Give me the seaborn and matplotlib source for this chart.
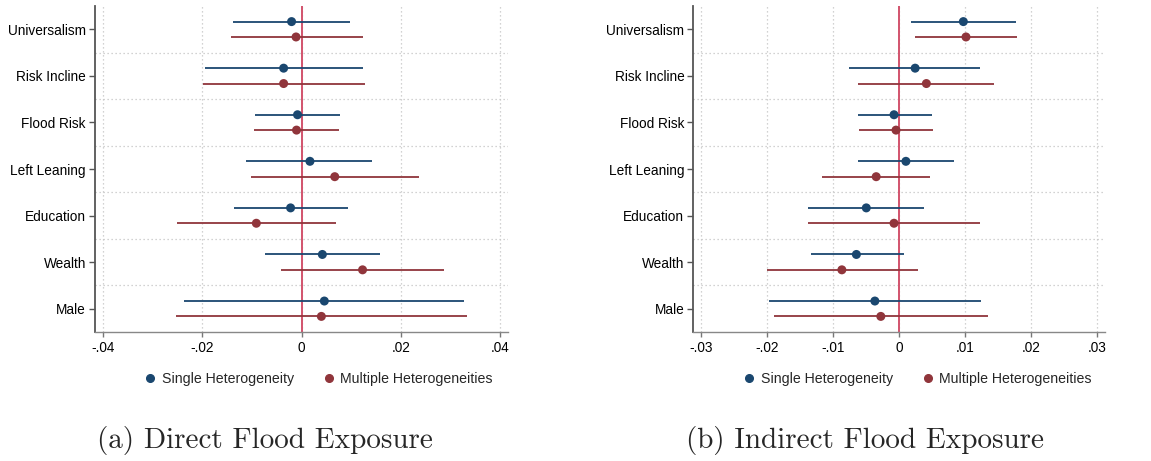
import numpy as np
import pandas as pd
import matplotlib
matplotlib.use("Agg")
import matplotlib.pyplot as plt
from matplotlib.lines import Line2D
import seaborn as sns

categories = ["Universalism", "Risk Incline", "Flood Risk", "Left Leaning",
              "Education", "Wealth", "Male"]
series_names = ["Single Heterogeneity", "Multiple Heterogeneities"]

# Panel (a) Direct Flood Exposure
a_single_est = [-0.0020, -0.0036, -0.0008, 0.0017, -0.0022, 0.0042, 0.0046]
a_single_lo = [-0.0137, -0.0195, -0.0094, -0.0111, -0.0136, -0.0074, -0.0236]
a_single_hi = [0.0098, 0.0123, 0.0077, 0.0143, 0.0093, 0.0159, 0.0328]
a_multi_est = [-0.0011, -0.0036, -0.0010, 0.0067, -0.0091, 0.0123, 0.0040]
a_multi_lo = [-0.0143, -0.0199, -0.0095, -0.0102, -0.0251, -0.0041, -0.0253]
a_multi_hi = [0.0123, 0.0127, 0.0075, 0.0236, 0.0069, 0.0287, 0.0333]

# Panel (b) Indirect Flood Exposure
b_single_est = [0.0097, 0.0024, -0.0008, 0.0010, -0.0050, -0.0065, -0.0037]
b_single_lo = [0.0017, -0.0076, -0.0063, -0.0063, -0.0139, -0.0134, -0.0198]
b_single_hi = [0.0177, 0.0122, 0.0049, 0.0083, 0.0037, 0.0007, 0.0124]
b_multi_est = [0.0101, 0.0041, -0.0005, -0.0035, -0.0008, -0.0087, -0.0028]
b_multi_lo = [0.0024, -0.0062, -0.0061, -0.0117, -0.0138, -0.0201, -0.0190]
b_multi_hi = [0.0178, 0.0143, 0.0051, 0.0047, 0.0122, 0.0028, 0.0135]

a_ticks = [-0.04, -0.02, 0.0, 0.02, 0.04]
a_ticklabels = ["-.04", "-.02", "0", ".02", ".04"]
b_ticks = [-0.03, -0.02, -0.01, 0.0, 0.01, 0.02, 0.03]
b_ticklabels = ["-.03", "-.02", "-.01", "0", ".01", ".02", ".03"]
captions = ["(a) Direct Flood Exposure", "(b) Indirect Flood Exposure"]

sns.set_theme(style="white")
plt.rcParams["font.family"] = ["Liberation Sans", "DejaVu Sans"]

colors = {"Single Heterogeneity": "#1a476f", "Multiple Heterogeneities": "#90353b"}
offsets = {"Single Heterogeneity": -0.165, "Multiple Heterogeneities": 0.165}


def build(se, sl, sh, me, ml, mh):
    rows = []
    for name, e, l, h in [(series_names[0], se, sl, sh), (series_names[1], me, ml, mh)]:
        for i, c in enumerate(categories):
            rows.append(dict(category=c, series=name, est=e[i], lo=l[i], hi=h[i],
                             ypos=i + offsets[name]))
    return pd.DataFrame(rows)


dfa = build(a_single_est, a_single_lo, a_single_hi, a_multi_est, a_multi_lo, a_multi_hi)
dfb = build(b_single_est, b_single_lo, b_single_hi, b_multi_est, b_multi_lo, b_multi_hi)

fig = plt.figure(figsize=(11.51, 4.61), dpi=100)
axa = fig.add_axes([95 / 1151, 129 / 461, 413 / 1151, 326 / 461])
axb = fig.add_axes([693.3 / 1151, 129 / 461, 412 / 1151, 326 / 461])


def draw(ax, df, ticks, ticklabels, lim):
    ax.set_xlim(-lim, lim)
    ax.set_ylim(len(categories) - 0.5, -0.5)
    # grid
    for t in ticks:
        ax.axvline(t, color="#c4c4c4", lw=0.9, ls=(0, (1, 2.2)), zorder=0)
    for k in range(len(categories) - 1):
        ax.axhline(k + 0.5, color="#c4c4c4", lw=0.9, ls=(0, (1, 2.2)), zorder=0)
    ax.axvline(0, color="#d2536d", lw=1.4, zorder=1)
    for name in series_names:
        sub = df[df.series == name]
        ax.hlines(sub.ypos, sub.lo, sub.hi, color=colors[name], lw=1.3, zorder=2)
    sns.scatterplot(data=df, x="est", y="ypos", hue="series", palette=colors,
                    hue_order=series_names, s=42, edgecolor="none", ax=ax,
                    legend=False, zorder=3)
    ax.set_xlabel("")
    ax.set_ylabel("")
    ax.set_xticks(ticks)
    ax.set_xticklabels(ticklabels)
    ax.set_yticks(range(len(categories)))
    ax.set_yticklabels(categories)
    ax.tick_params(axis="y", which="both", left=True, length=4.5, width=1.0,
                   color="#555555", labelsize=9.8, pad=2, labelcolor="#000000")
    ax.tick_params(axis="x", bottom=True, length=3.5, width=1.0, color="#777777",
                   labelsize=9.8, pad=3, labelcolor="#000000")
    for s in ["top", "right"]:
        ax.spines[s].set_visible(False)
    ax.spines["left"].set_color("#555555")
    ax.spines["left"].set_linewidth(1.3)
    ax.spines["bottom"].set_color("#888888")
    ax.spines["bottom"].set_linewidth(1.0)


draw(axa, dfa, a_ticks, a_ticklabels, 0.0416)
draw(axb, dfb, b_ticks, b_ticklabels, 0.0312)

handles = [Line2D([], [], ls="none", marker="o", ms=5.5, color=colors[n], label=n)
           for n in series_names]
for cx in [318 / 1151, 917 / 1151]:
    fig.legend(handles=handles, loc="center", bbox_to_anchor=(cx, 1 - 379 / 461),
               ncol=2, frameon=False, fontsize=10.2, handletextpad=0.3,
               columnspacing=2.0, handlelength=1.0)

for cx, cap in zip([265 / 1151, 865 / 1151], captions):
    fig.text(cx, 1 - 440 / 461, cap, ha="center", va="center",
             family=["cmr10", "DejaVu Serif"], fontsize=21)

fig.savefig("out.png", dpi=100)
